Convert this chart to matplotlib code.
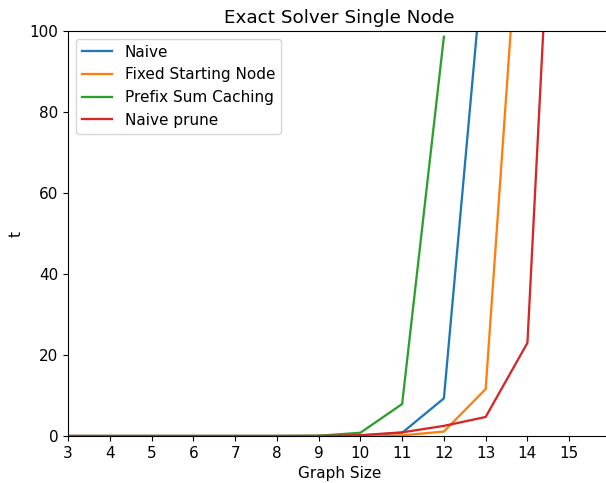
import matplotlib
matplotlib.use('Agg')
import matplotlib.pyplot as plt

sizes_naive = [3, 4, 5, 6, 7, 8, 9, 10, 11, 12, 13]
naive = [0.0, 0.0, 0.0, 0.0, 0.0, 0.0, 0.01, 0.08, 0.8, 9.3, 124.0]

sizes_fixed = [3, 4, 5, 6, 7, 8, 9, 10, 11, 12, 13, 14]
fixed = [0.0, 0.0, 0.0, 0.0, 0.0, 0.0, 0.0, 0.02, 0.15, 1.1, 11.6, 159.0]

sizes_prefix = [3, 4, 5, 6, 7, 8, 9, 10, 11, 12]
prefix = [0.0, 0.0, 0.0, 0.0, 0.0, 0.0, 0.05, 0.8, 7.9, 98.6]

sizes_prune = [3, 4, 5, 6, 7, 8, 9, 10, 11, 12, 13, 14, 15]
prune = [0.0, 0.0, 0.0, 0.0, 0.0, 0.0, 0.02, 0.2, 0.9, 2.5, 4.7, 23.0, 226.0]

plt.rcParams['font.size'] = 11
plt.rcParams['lines.linewidth'] = 1.65

fig = plt.figure(figsize=(6.06, 4.83), dpi=100)
ax = fig.add_axes([0.1122, 0.0973, 0.896, 0.8385])
ax.spines['right'].set_visible(False)

ax.plot(sizes_naive, naive, label='Naive')
ax.plot(sizes_fixed, fixed, label='Fixed Starting Node')
ax.plot(sizes_prefix, prefix, label='Prefix Sum Caching')
ax.plot(sizes_prune, prune, label='Naive prune')

ax.set_xlim(3, 16)
ax.set_ylim(0, 100)
ax.set_xticks(range(3, 16))
ax.set_title('Exact Solver Single Node')
ax.set_xlabel('Graph Size')
ax.set_ylabel('t')
ax.legend(loc='upper left')

fig.savefig('out.png', dpi=100)
